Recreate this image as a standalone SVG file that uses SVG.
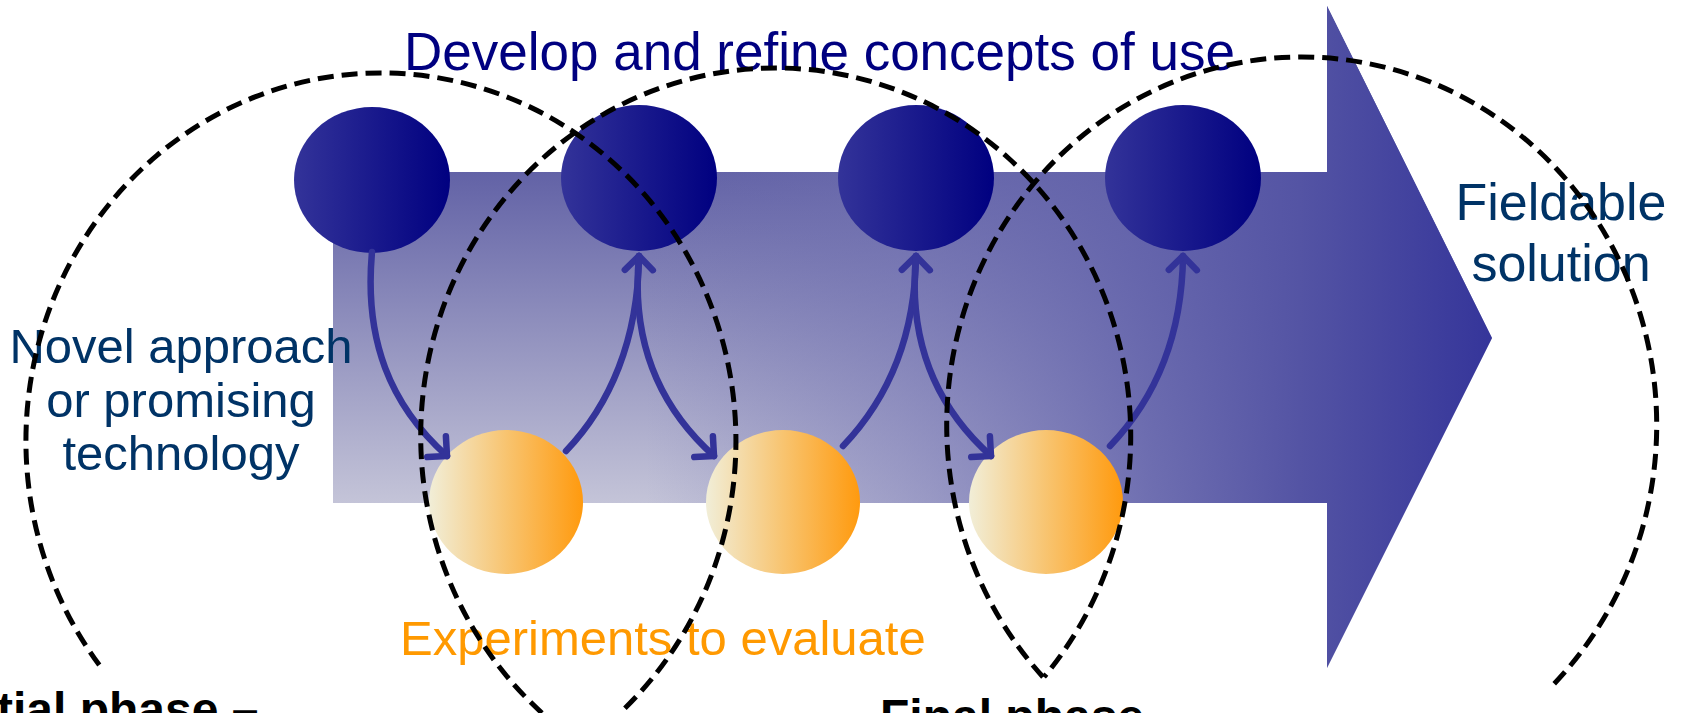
<svg xmlns="http://www.w3.org/2000/svg" width="1683" height="713" viewBox="0 0 1683 713">
<style>
.bn{fill:url(#gBlue)}
.on{fill:url(#gOrange)}
.cn{fill:none;stroke:#333399;stroke-width:6.5;stroke-linecap:round;marker-end:url(#chev)}
.ph{fill:none;stroke:#000;stroke-width:5;stroke-dasharray:16 8}
.t{font-family:"Liberation Sans",Arial,sans-serif}
.b{font-weight:bold;fill:#000;font-size:48px}
</style>
<defs>
<linearGradient id="gBlue" x1="0" y1="0" x2="1" y2="0">
<stop offset="0" stop-color="#333399"/>
<stop offset="1" stop-color="#000080"/>
</linearGradient>
<linearGradient id="gOrange" x1="0" y1="0" x2="1" y2="0">
<stop offset="0" stop-color="#f1eed8"/>
<stop offset="0.5" stop-color="#f8c470"/>
<stop offset="1" stop-color="#ff9a0e"/>
</linearGradient>
<linearGradient id="gV" gradientUnits="userSpaceOnUse" x1="0" y1="172" x2="0" y2="503">
<stop offset="0" stop-color="#6262a6"/>
<stop offset="1" stop-color="#c4c4d8"/>
</linearGradient>
<linearGradient id="gH" gradientUnits="userSpaceOnUse" x1="333" y1="0" x2="1492" y2="0">
<stop offset="0" stop-color="#7070b0" stop-opacity="0"/>
<stop offset="0.27" stop-color="#7070b0" stop-opacity="0"/>
<stop offset="0.489" stop-color="#7070b2" stop-opacity="0.45"/>
<stop offset="0.705" stop-color="#6060aa" stop-opacity="0.85"/>
<stop offset="0.834" stop-color="#5454a4" stop-opacity="1"/>
<stop offset="1" stop-color="#35359a" stop-opacity="1"/>
</linearGradient>
<marker id="chev" markerUnits="userSpaceOnUse" viewBox="-20 -20 40 40" markerWidth="40" markerHeight="40" refX="0" refY="0" orient="auto" overflow="visible">
<path d="M-14,-14 L0,0 L-14,14" fill="none" stroke="#333399" stroke-width="6.5" stroke-linecap="round" stroke-linejoin="round"/>
</marker>
</defs>
<rect width="1683" height="713" fill="#fff"/>
<g id="main-arrow">
<path d="M333 172 L1327 172 L1327 6 L1492 338 L1327 668 L1327 503 L333 503 Z" fill="url(#gV)"/>
<path d="M333 172 L1327 172 L1327 6 L1492 338 L1327 668 L1327 503 L333 503 Z" fill="url(#gH)"/>
</g>
<g id="concept1"><ellipse class="bn" cx="372" cy="180" rx="78" ry="73"/></g>
<g id="concept2"><ellipse class="bn" cx="639" cy="178" rx="78" ry="73"/></g>
<g id="concept3"><ellipse class="bn" cx="916" cy="178" rx="78" ry="73"/></g>
<g id="concept4"><ellipse class="bn" cx="1183" cy="178" rx="78" ry="73"/></g>
<g id="experiment1"><ellipse class="on" cx="506" cy="502" rx="77" ry="72"/></g>
<g id="experiment2"><ellipse class="on" cx="783" cy="502" rx="77" ry="72"/></g>
<g id="experiment3"><ellipse class="on" cx="1046" cy="502" rx="77" ry="72"/></g>
<g id="connectors">
<path class="cn" d="M372 252 C364 340 390 405 447 456"/>
<path class="cn" d="M566 451 C610 405 638 340 639 256"/>
<path class="cn" d="M639 256 C631 340 657 405 714 456"/>
<path class="cn" d="M843 446 C887 400 915 340 916 256"/>
<path class="cn" d="M916 256 C908 340 934 405 991 456"/>
<path class="cn" d="M1110 446 C1154 400 1182 340 1183 256"/>
</g>
<g id="labels" class="t">
<text x="404" y="70" font-size="53" fill="#000080">Develop and refine concepts of use</text>
<text x="181" y="363" font-size="49" fill="#003366" text-anchor="middle">Novel approach</text>
<text x="181" y="417" font-size="49" fill="#003366" text-anchor="middle">or promising</text>
<text x="181" y="470" font-size="49" fill="#003366" text-anchor="middle">technology</text>
<text x="1561" y="220" font-size="52" fill="#003366" text-anchor="middle">Fieldable</text>
<text x="1561" y="281" font-size="52" fill="#003366" text-anchor="middle">solution</text>
<text x="400" y="655" font-size="49" fill="#ff9900">Experiments to evaluate</text>
<text class="b" x="-3" y="726">tial phase –</text>
<text class="b" x="880" y="733">Final phase</text>
</g>
<g id="phases">
<path class="ph" d="M99.3 665 A355 368 0 1 1 620 713"/>
<path class="ph" d="M542 713 A355 368 0 1 1 1044 677"/>
<path class="ph" d="M1043 677 A355 368 0 1 1 1551 687"/>
</g>
</svg>
